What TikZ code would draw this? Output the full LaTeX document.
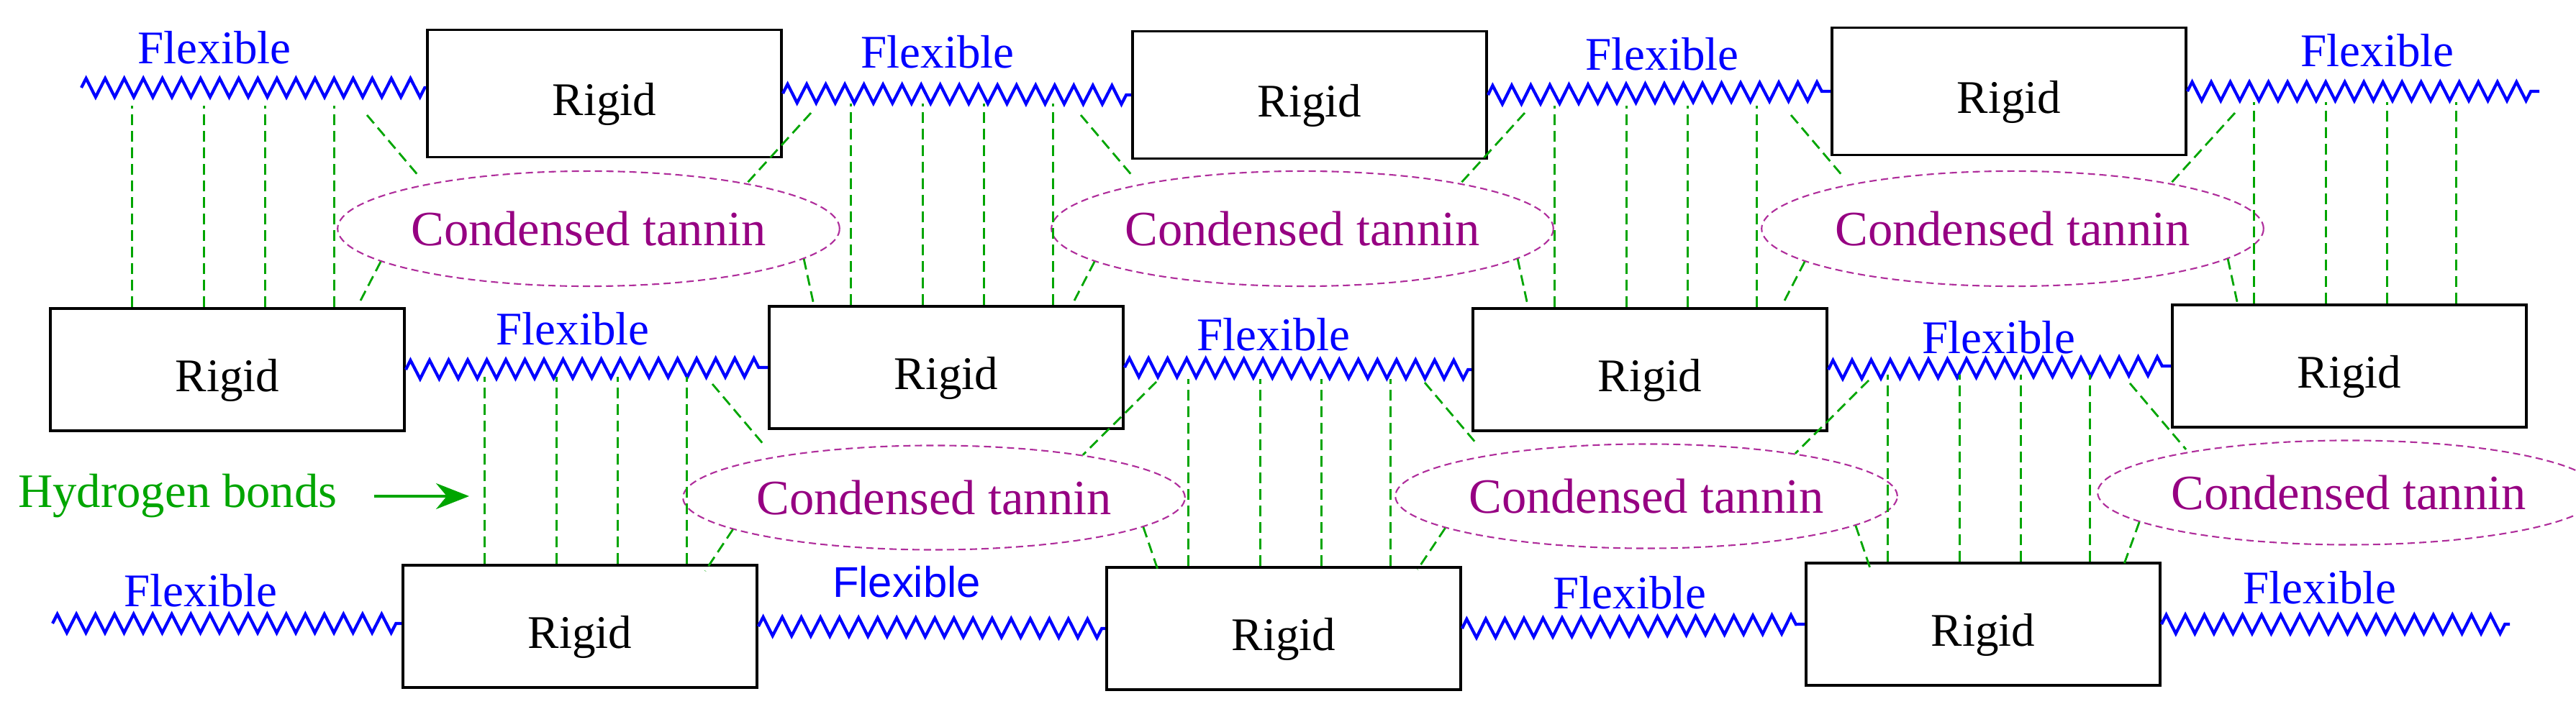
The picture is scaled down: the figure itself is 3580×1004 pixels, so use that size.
\documentclass[tikz,border=0pt]{standalone}
\usepackage{fontspec}
\setmainfont{Liberation Serif}
\newfontfamily\flexsans{Liberation Sans}
\usepackage{tikz}
\usetikzlibrary{shapes.geometric,decorations.pathmorphing,arrows.meta}
\usepackage{xcolor}
\definecolor{bondgreen}{RGB}{0,165,0}
\definecolor{tanninpurple}{RGB}{150,0,130}
\definecolor{tanninedge}{RGB}{175,45,155}

\begin{document}
\begin{tikzpicture}[
          x=0.01cm, y=-0.01cm,
          every node/.style={font=\fontsize{18.5}{22}\selectfont},
          rigid/.style={draw=black,line width=1pt,minimum width=4.92cm,minimum height=1.70cm,text height=0.6cm,text depth=0pt,inner sep=0pt},
          tannin/.style={ellipse,draw=tanninedge,line width=0.6pt,dash pattern=on 0.1cm off 0.06cm,text=tanninpurple,minimum width=5.92cm,minimum height=1.45cm,inner sep=0pt,font=\fontsize{19.5}{23}\selectfont},
          flex/.style={text=blue,inner sep=0pt},
          spring/.style={blue,line width=1.2pt,decorate,decoration={zigzag,segment length=0.265cm,amplitude=0.13cm}},
          hbond/.style={bondgreen,line width=0.8pt,dash pattern=on 0.15cm off 0.08cm},
        ]
        \useasboundingbox (0,0) rectangle (3580,1004);

        % rigid segments
        \node[rigid,minimum height=1.77cm] (r1) at (840,130) {Rigid};
        \node[rigid,minimum height=1.77cm] (r2) at (1820,132) {Rigid};
        \node[rigid,minimum height=1.77cm] (r3) at (2792,127) {Rigid};
        \node[rigid] (r4)  at (316,514)  {Rigid};
        \node[rigid] (r5)  at (1315,511) {Rigid};
        \node[rigid] (r6)  at (2293,514) {Rigid};
        \node[rigid] (r7)  at (3265,509) {Rigid};
        \node[rigid] (r8)  at (806,871)  {Rigid};
        \node[rigid] (r9)  at (1784,874) {Rigid};
        \node[rigid] (r10) at (2756,868) {Rigid};

        % tannin
        \node[tannin,minimum height=1.60cm] (t1) at (818,318)  {Condensed tannin};
        \node[tannin,minimum height=1.60cm] (t2) at (1810,318) {Condensed tannin};
        \node[tannin,minimum height=1.60cm] (t3) at (2797,318) {Condensed tannin};
        \node[tannin] (t4) at (1298,692) {Condensed tannin};
        \node[tannin] (t5) at (2288,690) {Condensed tannin};
        \node[tannin] (t6) at (3264,685) {Condensed tannin};

        % flexible labels
        \node[flex] (f1)  at (298,66)   {Flexible};
        \node[flex] (f2)  at (1303,72)  {Flexible};
        \node[flex] (f3)  at (2310,75)  {Flexible};
        \node[flex] (f4)  at (3304,70)  {Flexible};
        \node[flex] (f5)  at (796,457)  {Flexible};
        \node[flex] (f6)  at (1770,465) {Flexible};
        \node[flex] (f7)  at (2778,469) {Flexible};
        \node[flex] (f8)  at (279,821)  {Flexible};
        \node[flex,font=\flexsans\fontsize{17}{20}\selectfont] (f9) at (1260,809) {Flexible};
        \node[flex] (f10) at (2265,824) {Flexible};
        \node[flex] (f11) at (3224,817) {Flexible};

        % springs
        \coordinate (s1) at (113,122);
        \coordinate (s2) at (3529,124);
        \coordinate (s3) at (73,867);
        \coordinate (s4) at (3488,865);
        \draw[spring] (s1) -- (s1 -| r1.west);
        \draw[spring] (r1.east) -- (r2.west);
        \draw[spring] (r2.east) -- (r3.west);
        \draw[spring] (r3.east) -- (r3.east -| s2);
        \draw[spring] (r4.east) -- (r5.west);
        \draw[spring] (r5.east) -- (r6.west);
        \draw[spring] (r6.east) -- (r7.west);
        \draw[spring] (s3) -- (s3 -| r8.west);
        \draw[spring] (r8.east) -- (r9.west);
        \draw[spring] (r9.east) -- (r10.west);
        \draw[spring] (r10.east) -- (r10.east -| s4);

        % hydrogen bonds
        \foreach \rbox/\blen in {r4/280,r5/280,r6/280,r7/280,r8/260,r9/260,r10/260}
          \foreach \dx in {115,215,300,396}
            \draw[hbond] (\rbox.north west) ++(\dx,0) -- ++(0,-\blen);
        \foreach \tn in {t1,t2,t3,t4,t5} {
          \draw[hbond] ([shift={(-308,-158)}]\tn.center) -- ([shift={(-236,-73)}]\tn.center);
          \draw[hbond] ([shift={(309,-161)}]\tn.center) -- (\tn.16);
          \draw[hbond] (\tn.189) -- ([shift={(-318,102)}]\tn.center);
          \draw[hbond] (\tn.352) -- ([shift={(313,106)}]\tn.center);
        }
        \draw[hbond] ([shift={(-304,-152)}]t6.center) -- ([shift={(-226,-60)}]t6.center);
        \draw[hbond] (t6.188) -- ([shift={(-313,102)}]t6.center);

        \node[text=bondgreen,inner sep=0pt,font=\fontsize{19}{23}\selectfont] (hb) at (247,690) {Hydrogen bonds};
        \coordinate (hbtip) at (652,690);
        \draw[bondgreen,line width=1pt,-{Stealth[length=0.46cm,width=0.36cm]},shorten <=0.5cm] (hb.east) -- (hbtip);
      \end{tikzpicture}
\end{document}
